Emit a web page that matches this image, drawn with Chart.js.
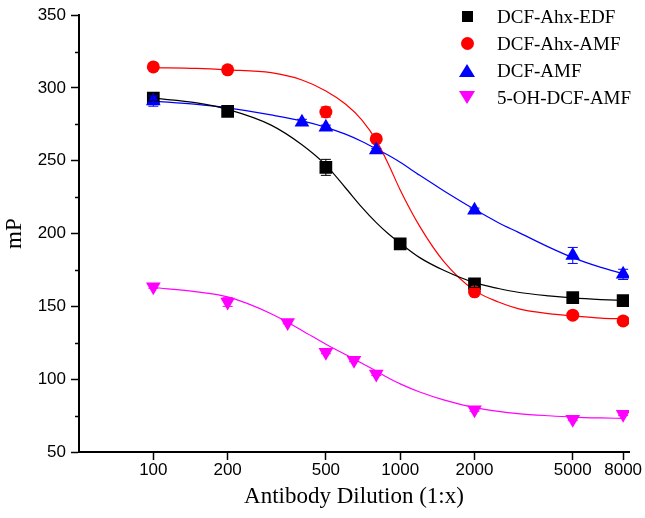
<!DOCTYPE html>
<html>
<head>
<meta charset="utf-8">
<script src="https://cdn.jsdelivr.net/npm/chart.js@4.4.1/dist/chart.umd.min.js"></script>
<style>
  html, body { margin: 0; padding: 0; background: #fff; }
  #wrap { position: relative; width: 645px; height: 518px; }
  #legend { position: absolute; left: 457px; top: 3px; font-family: "Liberation Serif", "Times New Roman", serif; font-size: 19px; color: #000; }
  .item { height: 27px; display: flex; align-items: center; white-space: nowrap; }
  .mk { width: 20px; height: 20px; margin-right: 20px; display: flex; align-items: center; justify-content: center; }
  .sq { width: 11px; height: 11px; background: #000; }
  .ci { width: 13px; height: 13px; border-radius: 50%; background: #ff0000; }
  .up { width: 0; height: 0; border-left: 8px solid transparent; border-right: 8px solid transparent; border-bottom: 13px solid #0000ff; }
  .dn { width: 0; height: 0; border-left: 8px solid transparent; border-right: 8px solid transparent; border-top: 13px solid #ff00ff; }
</style>
</head>
<body>
<div id="wrap">
  <canvas id="chart" width="645" height="518"></canvas>
  <div id="legend">
    <div class="item"><div class="mk"><div class="sq"></div></div>DCF-Ahx-EDF</div>
    <div class="item"><div class="mk"><div class="ci"></div></div>DCF-Ahx-AMF</div>
    <div class="item"><div class="mk"><div class="up"></div></div>DCF-AMF</div>
    <div class="item"><div class="mk"><div class="dn"></div></div>5-OH-DCF-AMF</div>
  </div>
</div>
<script>
(function() {
  'use strict';

  // tick labels
  var xTicks = [100, 200, 500, 1000, 2000, 5000, 8000];
  var yMinor = [75, 125, 175, 225, 275, 325];

  // fitted curves
  var curveX = [100, 150, 200, 300, 400, 500, 600, 700, 800, 900, 1000, 1200, 1500, 2000, 2500, 3000, 4000, 5000, 6500, 8000];
  var curveEdf = [293, 289.8, 285.3, 274.5, 261, 247, 231.5, 218, 207.5, 199.5, 193.4, 183.5, 174.8, 166.3, 162.3, 159.7, 157.2, 155.8, 154.7, 154.1];
  var curveAhxAmf = [314, 313.5, 312.5, 310.5, 305.5, 298, 289, 278, 264, 247, 230, 205, 181, 161, 153, 148.5, 145, 143.5, 142, 141.5];
  var curveAmf = [291, 288.7, 286.4, 281.5, 277.4, 273, 268.3, 263.3, 258.3, 253.6, 249, 240, 229.5, 216.7, 207.5, 201, 190.7, 183.5, 176.8, 172.5];
  var curveOh = [163, 160, 156.5, 145, 133.5, 124, 117, 111, 105.5, 100.7, 96.8, 91.2, 85.8, 80.5, 77.9, 76.4, 74.9, 74, 73.4, 73.1];

  // measured points
  var edfX = [100, 200, 500, 1000, 2000, 5000, 8000];
  var edfY = [293, 284, 245.5, 193, 165.5, 156, 154];
  var edfErr = [2, 1, 5.5, 1.5, 2.5, 1.5, 1.5];

  var ahxAmfX = [100, 200, 500, 800, 2000, 5000, 8000];
  var ahxAmfY = [314.5, 312.5, 283.5, 265, 160, 144, 140];
  var ahxAmfErr = [1.5, 1.5, 3.5, 1.5, 1.5, 1, 1];

  var amfX = [100, 400, 500, 800, 2000, 5000, 8000];
  var amfY = [291, 276.5, 273, 257.5, 216, 185, 172];
  var amfErr = [3.5, 2, 1.5, 1, 1.5, 5.5, 3.5];

  var ohX = [100, 200, 350, 500, 650, 800, 2000, 5000, 8000];
  var ohY = [163.5, 153, 139, 118.5, 113, 103.5, 79, 72.5, 76];
  var ohErr = [1, 3, 1, 1, 1, 1, 1, 1, 1];

  function pts(xs, ys) {
    return xs.map(function(x, i) { return { x: x, y: ys[i] }; });
  }

  function curve(ys, color) {
    return {
      type: 'line', data: pts(curveX, ys), borderColor: color, borderWidth: 1.2,
      pointRadius: 0, fill: false, cubicInterpolationMode: 'monotone', order: 10
    };
  }

  function marks(xs, ys, err, color, style, radius, rotation, order) {
    return {
      type: 'scatter', data: pts(xs, ys), err: err, backgroundColor: color, borderColor: color,
      borderWidth: 0, pointStyle: style, pointRadius: radius, pointHoverRadius: radius,
      rotation: rotation, showLine: false, order: order
    };
  }

  var errorBars = {
    id: 'errorBars',
    afterDatasetsDraw: function(chart) {
      var ctx = chart.ctx;
      var xs = chart.scales.x, ys = chart.scales.y;
      ctx.save();
      chart.data.datasets.forEach(function(ds) {
        if (!ds.err) return;
        ctx.strokeStyle = ds.borderColor;
        ctx.lineWidth = 1;
        ds.data.forEach(function(p, i) {
          var px = xs.getPixelForValue(p.x);
          var top = ys.getPixelForValue(p.y + ds.err[i]);
          var bot = ys.getPixelForValue(p.y - ds.err[i]);
          ctx.beginPath();
          ctx.moveTo(px, top); ctx.lineTo(px, bot);
          ctx.moveTo(px - 5, top); ctx.lineTo(px + 5, top);
          ctx.moveTo(px - 5, bot); ctx.lineTo(px + 5, bot);
          ctx.stroke();
        });
      });
      ctx.restore();
    }
  };

  var minorTicks = {
    id: 'minorTicks',
    afterDraw: function(chart) {
      var ctx = chart.ctx, ys = chart.scales.y;
      var left = chart.chartArea.left;
      ctx.save();
      ctx.strokeStyle = '#000';
      ctx.lineWidth = 1.5;
      yMinor.forEach(function(v) {
        var py = Math.round(ys.getPixelForValue(v)) + 0.5;
        ctx.beginPath();
        ctx.moveTo(left - 4, py); ctx.lineTo(left, py);
        ctx.stroke();
      });
      ctx.restore();
    }
  };

  var tickFont = { family: '"Liberation Sans", Arial, sans-serif', size: 17 };
  var titleFont = { family: '"Liberation Serif", "Times New Roman", serif', size: 23 };

  new Chart(document.getElementById('chart'), {
    type: 'scatter',
    data: {
      datasets: [
        marks(edfX, edfY, edfErr, '#000000', 'rect', 9, 0, 4),
        marks(ahxAmfX, ahxAmfY, ahxAmfErr, '#ff0000', 'circle', 6.5, 0, 3),
        marks(amfX, amfY, amfErr, '#0000ff', 'triangle', 8.5, 0, 2),
        marks(ohX, ohY, ohErr, '#ff00ff', 'triangle', 8.5, 180, 1),
        curve(curveEdf, '#000000'),
        curve(curveAhxAmf, '#ff0000'),
        curve(curveAmf, '#0000ff'),
        curve(curveOh, '#ff00ff')
      ]
    },
    options: {
      responsive: false,
      animation: false,
      devicePixelRatio: 1,
      layout: { padding: { left: 0, right: 16, top: 7, bottom: 0 } },
      plugins: { legend: { display: false }, tooltip: { enabled: false } },
      scales: {
        x: {
          type: 'logarithmic', min: 50, max: 8450,
          afterBuildTicks: function(scale) { scale.ticks = xTicks.map(function(v) { return { value: v }; }); },
          afterFit: function(scale) { scale.height = 66; },
          ticks: { autoSkip: false, maxRotation: 0, color: '#000', font: tickFont, padding: 0,
            callback: function(value) { return String(value); } },
          grid: { drawOnChartArea: false, drawTicks: true, tickLength: 8, tickColor: '#000', tickWidth: 1.5 },
          border: { color: '#000', width: 2 },
          title: { display: true, text: 'Antibody Dilution (1:x)', color: '#000', font: titleFont, padding: { top: 0, bottom: 7 } }
        },
        y: {
          min: 50, max: 350,
          afterFit: function(scale) { scale.width = 79; },
          ticks: { stepSize: 50, color: '#000', font: tickFont, padding: 5 },
          grid: { drawOnChartArea: false, drawTicks: true, tickLength: 8, tickColor: '#000', tickWidth: 1.5 },
          border: { color: '#000', width: 2 },
          title: { display: true, text: 'mP', color: '#000', font: titleFont, padding: { top: 1, bottom: 0 } }
        }
      }
    },
    plugins: [errorBars, minorTicks]
  });
})();
</script>
</body>
</html>
